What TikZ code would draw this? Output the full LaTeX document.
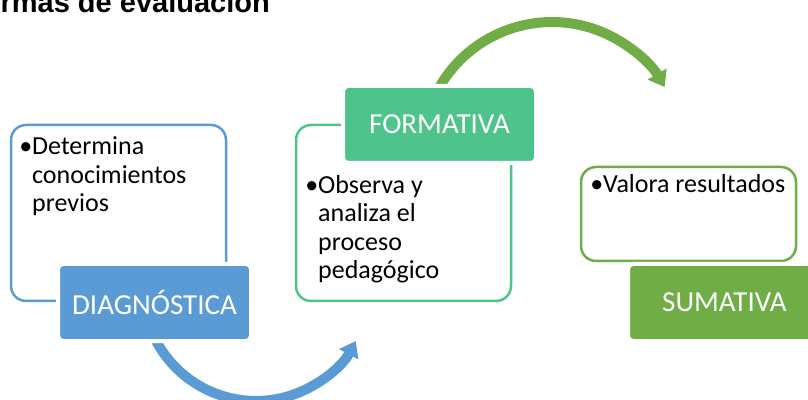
\documentclass[tikz,border=0pt]{standalone}
\usepackage{fontspec}
\setmainfont{Carlito}
\newfontfamily\titlefont{Liberation Sans}
\usetikzlibrary{arrows.meta, backgrounds}
\definecolor{diagblue}{HTML}{5B9BD5}
\definecolor{formteal}{HTML}{4EC38C}
\definecolor{sumgreen}{HTML}{70AD47}

\begin{document}
\begin{tikzpicture}[
  x=1pt, y=1pt,
  frame/.style={rectangle, rounded corners=15pt, line width=2.5pt, minimum width=215pt, minimum height=176pt},
  stage/.style={rectangle, rounded corners=5pt, draw=white, line width=4pt, text=white, minimum width=193pt, minimum height=77pt, font=\fontsize{29}{34}\selectfont},
  bullets/.style={anchor=base west, align=left, inner sep=0pt, font=\fontsize{26}{28.5}\selectfont},
  sweep/.style={line width=10pt, -{Triangle[length=15pt, width=21pt]}}
]
\useasboundingbox (0,0) rectangle (808,399);
\clip (0,0) rectangle (808,399);
% title, cut by the top and left edges
\node[anchor=base west, inner sep=0pt, font=\titlefont\bfseries\fontsize{29}{33}\selectfont] (title) at (-35,386) {Formas de evaluación};
% ----- frames -----
\node[frame, draw=diagblue] (diagBox) at (118.5,186) {};
\node[frame, draw=formteal] (formBox) at (403.5,186) {};
\node[frame, draw=sumgreen, minimum height=94pt] (sumBox) at (688.5,185) {};
% ----- texts (anchored on the last line) -----
\node[bullets] (diagTxt) at (32,187) {\llap{•}Determina\\conocimientos\\previos};
\node[bullets] (formTxt) at (318,120.5) {\llap{•}Observa y\\analiza el\\proceso\\pedagógico};
\node[bullets] (sumTxt) at (603,206) {\llap{•}Valora resultados};
% ----- stages -----
\node[stage, fill=diagblue] (diag) at (154.5,96.5) {DIAGNÓSTICA};
\node[stage, fill=formteal] (form) at (439.5,274.5) {FORMATIVA};
\node[stage, fill=sumgreen] (sum) at (724.5,96.5) {SUMATIVA};
% ----- arrows -----
\begin{scope}[on background layer]
\draw[sweep, diagblue] ([shift={(-4.7,-24.1)}]diag.center) arc[start angle=200, end angle=332, radius=113pt];
\draw[sweep, sumgreen] ([shift={(-5.3,27.4)}]form.center) arc[start angle=155, end angle=30, radius=130pt];
\end{scope}
\end{tikzpicture}
\end{document}
